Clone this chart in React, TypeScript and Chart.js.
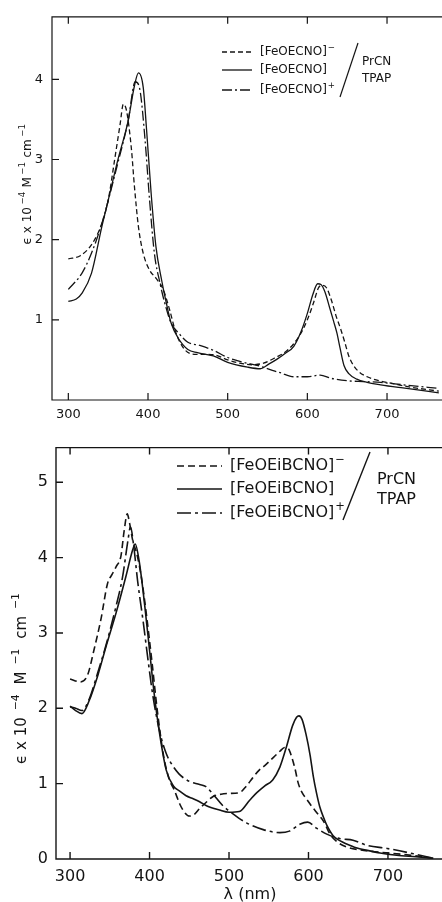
import React, { useEffect, useRef } from "react";
import { Chart, registerables } from "chart.js";

Chart.register(...registerables);

const FONT = "'DejaVu Sans', 'Liberation Sans', sans-serif";
const INK = "#141414";

// ---------- Top panel: [FeOECNO] ----------
const topAnionNm = [300, 315, 330, 342, 350, 358, 365, 369, 373, 379, 383, 388, 394, 402, 410, 419, 427, 435, 446, 458, 470, 485, 500, 515, 530, 545, 560, 575, 590, 600, 608, 614, 619, 624, 630, 636, 642, 647, 652, 658, 665, 675, 690, 705, 730, 765];
const topAnionEps = [1.76, 1.80, 1.95, 2.20, 2.49, 2.99, 3.44, 3.69, 3.61, 3.15, 2.66, 2.16, 1.83, 1.62, 1.52, 1.38, 1.13, 0.84, 0.63, 0.57, 0.57, 0.56, 0.50, 0.46, 0.44, 0.46, 0.53, 0.62, 0.80, 1.00, 1.22, 1.40, 1.43, 1.40, 1.25, 1.05, 0.88, 0.72, 0.55, 0.43, 0.35, 0.29, 0.24, 0.21, 0.16, 0.11];

const topNeutralNm = [300, 310, 317, 329, 342, 350, 362, 375, 383, 388, 394, 398, 404, 410, 417, 423, 429, 438, 450, 462, 482, 500, 525, 541, 552, 562, 572, 583, 592, 600, 607, 613, 617, 622, 628, 633, 637, 641, 646, 652, 662, 675, 692, 720, 765];
const topNeutralEps = [1.23, 1.26, 1.33, 1.58, 2.16, 2.49, 2.99, 3.48, 3.92, 4.08, 3.90, 3.40, 2.57, 1.91, 1.50, 1.21, 0.96, 0.77, 0.63, 0.59, 0.55, 0.47, 0.41, 0.39, 0.45, 0.51, 0.58, 0.67, 0.85, 1.08, 1.32, 1.45, 1.44, 1.35, 1.15, 0.98, 0.84, 0.65, 0.43, 0.33, 0.26, 0.22, 0.19, 0.15, 0.09];

const topCationNm = [300, 317, 329, 342, 362, 375, 384, 390, 396, 402, 408, 415, 421, 429, 438, 450, 465, 482, 500, 520, 541, 556, 566, 583, 600, 616, 630, 650, 670, 692, 720, 765];
const topCationEps = [1.38, 1.58, 1.83, 2.20, 2.95, 3.48, 3.97, 3.86, 3.28, 2.49, 1.83, 1.46, 1.21, 0.96, 0.84, 0.72, 0.68, 0.62, 0.53, 0.47, 0.42, 0.37, 0.34, 0.29, 0.29, 0.31, 0.27, 0.24, 0.23, 0.22, 0.19, 0.145];

// ---------- Bottom panel: [FeOEiBCNO] ----------
const botAnionNm = [300, 313, 322, 330, 339, 347, 353, 358, 364, 368, 372, 375, 379, 384, 390, 396, 403, 410, 418, 425, 431, 438, 444, 450, 456, 463, 471, 480, 490, 500, 513, 522, 530, 538, 545, 551, 558, 564, 570, 575, 579, 583, 587, 592, 598, 604, 610, 619, 627, 637, 648, 665, 690, 720, 757];
const botAnionEps = [2.39, 2.35, 2.44, 2.77, 3.19, 3.65, 3.78, 3.88, 4.02, 4.35, 4.58, 4.45, 4.22, 4.05, 3.72, 3.25, 2.62, 1.95, 1.35, 1.05, 0.92, 0.73, 0.62, 0.57, 0.59, 0.67, 0.75, 0.83, 0.86, 0.87, 0.88, 0.97, 1.08, 1.18, 1.24, 1.30, 1.37, 1.43, 1.48, 1.46, 1.35, 1.20, 1.01, 0.88, 0.79, 0.70, 0.62, 0.50, 0.33, 0.22, 0.16, 0.12, 0.09, 0.06, 0.01];

const botNeutralNm = [300, 307, 315, 324, 335, 345, 358, 370, 379, 382, 387, 394, 400, 406, 413, 421, 430, 438, 446, 455, 463, 471, 488, 500, 513, 526, 535, 545, 555, 564, 572, 580, 585, 588, 592, 597, 602, 606, 610, 614, 619, 623, 631, 640, 648, 660, 674, 690, 711, 735, 757];
const botNeutralEps = [2.03, 1.97, 1.93, 2.10, 2.44, 2.81, 3.27, 3.74, 4.11, 4.18, 3.95, 3.36, 2.77, 2.18, 1.64, 1.18, 0.97, 0.90, 0.84, 0.80, 0.76, 0.71, 0.65, 0.62, 0.63, 0.78, 0.88, 0.97, 1.05, 1.22, 1.48, 1.77, 1.88, 1.90, 1.85, 1.65, 1.38, 1.10, 0.88, 0.70, 0.55, 0.45, 0.31, 0.24, 0.20, 0.15, 0.115, 0.08, 0.05, 0.03, 0.01];

const botCationNm = [300, 307, 315, 324, 335, 345, 358, 366, 373, 376, 380, 385, 392, 398, 404, 413, 421, 429, 437, 450, 463, 471, 480, 492, 505, 522, 543, 564, 576, 589, 599, 610, 623, 640, 656, 674, 699, 732, 757];
const botCationEps = [2.02, 2.00, 1.97, 2.12, 2.48, 2.83, 3.36, 3.74, 4.24, 4.41, 4.16, 3.69, 3.15, 2.65, 2.18, 1.68, 1.40, 1.24, 1.13, 1.03, 0.99, 0.96, 0.86, 0.71, 0.60, 0.48, 0.39, 0.35, 0.37, 0.46, 0.49, 0.41, 0.33, 0.27, 0.25, 0.18, 0.14, 0.07, 0.01];

// ---------- Labels & ticks ----------
const topLabels = ["[FeOECNO]⁻", "[FeOECNO]", "[FeOECNO]⁺"];
const bottomLabels = ["[FeOEiBCNO]⁻", "[FeOEiBCNO]", "[FeOEiBCNO]⁺"];
const sideText = ["PrCN", "TPAP"];
// y-axis title: ϵ x 10⁻⁴ M⁻¹ cm⁻¹  (base text / superscript pairs)
const yTitleParts: [string, boolean][] = [["ϵ x 10", false], ["−4", true], [" M", false], ["−1", true], [" cm", false], ["−1", true]];
const xTitle = "λ (nm)";

const topXTicks = [300, 400, 500, 600, 700];
const topYTicks = [1, 2, 3, 4];
const bottomXTicks = [300, 400, 500, 600, 700];
const bottomYTicks = [0, 1, 2, 3, 4, 5];

function pts(nm: number[], eps: number[]) {
  return nm.map((x, i) => ({ x, y: eps[i] }));
}

function splitSup(label: string): [string, boolean][] {
  const last = label.slice(-1);
  if (last === "⁻") return [[label.slice(0, -1), false], ["−", true]];
  if (last === "⁺") return [[label.slice(0, -1), false], ["+", true]];
  return [[label, false]];
}

function drawRich(ctx: any, parts: [string, boolean][], x: number, y: number, size: number, center: boolean, spacing: number) {
  const supSize = size * 0.72;
  const widths = parts.map(([t, sup]) => {
    ctx.font = `${sup ? supSize : size}px ${FONT}`;
    return ctx.measureText(t).width + spacing;
  });
  const total = widths.reduce((s, w) => s + w, 0);
  let cx = center ? x - total / 2 : x;
  ctx.textAlign = "left";
  ctx.textBaseline = "middle";
  parts.forEach(([t, sup], i) => {
    ctx.font = `${sup ? supSize : size}px ${FONT}`;
    ctx.fillText(t, cx + (sup ? 1 : 0), sup ? y - size * 0.38 : y);
    cx += widths[i];
  });
}

const decor = {
  id: "decor",
  afterDatasetsDraw(chart: any, _args: any, o: any) {
    const { ctx, chartArea: a } = chart;
    const xs = chart.scales.x;
    const ys = chart.scales.y;
    ctx.save();
    ctx.strokeStyle = INK;
    ctx.fillStyle = INK;
    ctx.setLineDash([]);
    ctx.lineWidth = o.frameWidth;
    ctx.beginPath();
    ctx.moveTo(a.right + 5, a.top);
    ctx.lineTo(a.left, a.top);
    ctx.lineTo(a.left, a.bottom);
    ctx.lineTo(a.right + 5, a.bottom);
    for (const v of o.xTicks) {
      const px = xs.getPixelForValue(v);
      ctx.moveTo(px, a.bottom);
      ctx.lineTo(px, a.bottom - o.tickLen);
      ctx.moveTo(px, a.top);
      ctx.lineTo(px, a.top + o.tickLen);
    }
    for (const v of o.yTicks) {
      const py = ys.getPixelForValue(v);
      ctx.moveTo(a.left, py);
      ctx.lineTo(a.left + o.tickLen, py);
    }
    ctx.stroke();

    const L = o.legend;
    chart.data.datasets.forEach((ds: any, i: number) => {
      const yy = L.rows[i];
      ctx.lineWidth = ds.borderWidth;
      ctx.setLineDash(ds.borderDash || []);
      ctx.beginPath();
      ctx.moveTo(L.x1, yy);
      ctx.lineTo(L.x2, yy);
      ctx.stroke();
      ctx.setLineDash([]);
      drawRich(ctx, splitSup(ds.label), L.textX, yy, L.size, false, 0);
    });
    ctx.lineWidth = o.frameWidth;
    ctx.beginPath();
    ctx.moveTo(L.slash[0], L.slash[1]);
    ctx.lineTo(L.slash[2], L.slash[3]);
    ctx.stroke();
    ctx.font = `${L.size}px ${FONT}`;
    ctx.textAlign = "left";
    ctx.textBaseline = "middle";
    sideText.forEach((t, i) => ctx.fillText(t, L.sideX, L.sideRows[i]));

    // y axis title
    const T = o.yTitle;
    ctx.save();
    ctx.translate(T.x, T.y);
    ctx.rotate(-Math.PI / 2);
    drawRich(ctx, yTitleParts, 0, 0, T.size, true, T.spacing);
    ctx.restore();

    if (o.xTitle) {
      ctx.textAlign = "center";
      ctx.textBaseline = "middle";
      ctx.font = `${o.xTitle.size}px ${FONT}`;
      ctx.fillText(xTitle, o.xTitle.x, o.xTitle.y);
    }
    ctx.restore();
  },
};

function buildConfig(p: any) {
  const series = p.series;
  return {
    type: "line",
    data: {
      datasets: series.map((s: any, i: number) => ({
        label: p.labels[i],
        data: pts(s.nm, s.eps),
        borderColor: INK,
        borderWidth: p.lw,
        borderDash: p.dashes[i],
        pointRadius: 0,
        fill: false,
        cubicInterpolationMode: "monotone",
      })),
    },
    options: {
      animation: false,
      responsive: false,
      devicePixelRatio: 1,
      events: [],
      layout: { padding: { top: p.padTop, left: 0, right: 0, bottom: 0 } },
      plugins: {
        legend: { display: false },
        tooltip: { enabled: false },
        decor: p.decor,
      },
      scales: {
        x: {
          type: "linear",
          min: p.xMin,
          max: p.xMax,
          afterBuildTicks: (s: any) => { s.ticks = p.xTicks.map((v: number) => ({ value: v })); },
          afterFit: (s: any) => { s.height = p.xHeight; },
          grid: { display: false, drawTicks: false },
          border: { display: false },
          ticks: { color: INK, font: { family: FONT, size: p.tickSize }, padding: p.xPad, maxRotation: 0, autoSkip: false, callback: (v: any) => String(v) },
        },
        y: {
          type: "linear",
          min: 0,
          max: p.yMax,
          afterBuildTicks: (s: any) => { s.ticks = p.yTicks.map((v: number) => ({ value: v })); },
          afterFit: (s: any) => { s.width = p.yWidth; },
          grid: { display: false, drawTicks: false },
          border: { display: false },
          ticks: { color: INK, font: { family: FONT, size: p.tickSize }, padding: p.yPad, autoSkip: false, callback: (v: any) => String(v) },
        },
      },
    },
    plugins: [decor],
  };
}

const topPanel = {
  series: [
    { nm: topAnionNm, eps: topAnionEps },
    { nm: topNeutralNm, eps: topNeutralEps },
    { nm: topCationNm, eps: topCationEps },
  ],
  labels: topLabels,
  lw: 1.3,
  dashes: [[5, 3], [], [10, 3, 2, 3]],
  padTop: 15,
  xMin: 279.5,
  xMax: 769,
  yMax: 4.78,
  xTicks: topXTicks,
  yTicks: topYTicks,
  xHeight: 30,
  yWidth: 52,
  tickSize: 13,
  xPad: 7,
  yPad: 9,
  decor: {
    frameWidth: 1.2,
    tickLen: 7,
    xTicks: topXTicks,
    yTicks: topYTicks,
    legend: { size: 12, x1: 222, x2: 252, textX: 260, rows: [52, 70, 90], slash: [358, 43, 340, 97], sideX: 362, sideRows: [62, 79] },
    yTitle: { x: 27.5, y: 184, size: 12, spacing: 1.5 },
    xTitle: null,
  },
};

const bottomPanel = {
  series: [
    { nm: botAnionNm, eps: botAnionEps },
    { nm: botNeutralNm, eps: botNeutralEps },
    { nm: botCationNm, eps: botCationEps },
  ],
  labels: bottomLabels,
  lw: 1.6,
  dashes: [[7, 4], [], [14, 4, 3, 4]],
  padTop: 1,
  xMin: 282.3,
  xMax: 768,
  yMax: 5.46,
  xTicks: bottomXTicks,
  yTicks: bottomYTicks,
  xHeight: 43,
  yWidth: 56,
  tickSize: 16,
  xPad: 8,
  yPad: 8,
  decor: {
    frameWidth: 1.4,
    tickLen: 7,
    xTicks: bottomXTicks,
    yTicks: bottomYTicks,
    legend: { size: 16, x1: 177, x2: 222, textX: 230, rows: [36, 59, 83], slash: [370, 22, 343, 90], sideX: 377, sideRows: [50, 70] },
    yTitle: { x: 22, y: 246, size: 15, spacing: 6 },
    xTitle: { x: 250, y: 465, size: 16 },
  },
};

function Panel({ top, height, panel }: { top: number; height: number; panel: any }) {
  const ref = useRef<HTMLCanvasElement | null>(null);
  useEffect(() => {
    if (!ref.current) return;
    const chart = new Chart(ref.current, buildConfig(panel) as any);
    return () => chart.destroy();
  }, [panel]);
  return (
    <canvas
      ref={ref}
      width={442}
      height={height}
      style={{ position: "absolute", left: 0, top, width: 442, height }}
    />
  );
}

export default function App() {
  return (
    <div style={{ position: "absolute", left: 0, top: 0, width: 442, height: 902, overflow: "hidden", background: "#fff" }}>
      <Panel top={0} height={430} panel={topPanel} />
      <Panel top={430} height={472} panel={bottomPanel} />
    </div>
  );
}
